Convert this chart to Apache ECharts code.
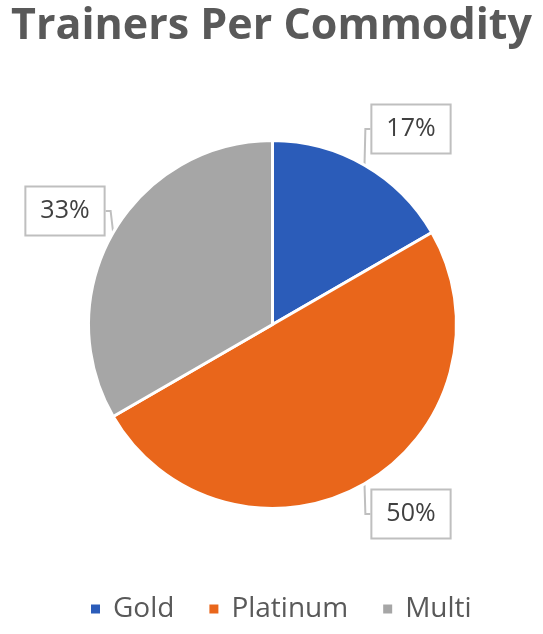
<!DOCTYPE html>
<html><head><meta charset="utf-8">
<script src="https://cdn.jsdelivr.net/npm/echarts@6/dist/echarts.min.js"></script>
<style>html,body{margin:0;padding:0;background:#fff}#c{width:543px;height:634px}</style>
</head><body><div id="c"></div>
<script>
const categories = ['Gold', 'Platinum', 'Multi'];
const values = [1, 3, 2];
const colors = ['#2B5CB9', '#E9661B', '#A6A6A6'];
const labelCenters = [[411, 129], [411, 514], [65, 211]];

const chart = echarts.init(document.getElementById('c'));
chart.setOption({
  animation: false,
  backgroundColor: '#fff',
  title: {
    text: 'Trainers Per Commodity',
    left: 'center', top: 0,
    textStyle: { fontFamily: 'Open Sans', fontWeight: 'bold', fontSize: 43, color: '#595959' }
  },
  legend: {
    bottom: 6, left: 84,
    icon: 'rect', itemWidth: 11, itemHeight: 11, itemGap: 33,
    textStyle: { fontFamily: 'Open Sans', fontSize: 28, color: '#595959', padding: [0, 0, 0, 7] },
    data: categories
  },
  series: [{
    type: 'pie',
    center: [272.5, 324.5],
    radius: 184,
    startAngle: 90,
    clockwise: true,
    data: categories.map((c, i) => ({ name: c, value: values[i], itemStyle: { color: colors[i] } })),
    itemStyle: { borderColor: '#fff', borderWidth: 3 },
    label: {
      show: true,
      formatter: '{d}%',
      fontFamily: 'Open Sans', fontSize: 25, color: '#404040',
      backgroundColor: '#fff', borderColor: '#BFBFBF', borderWidth: 2,
      padding: [11, 14]
    },
    percentPrecision: 0,
    labelLine: { show: true, lineStyle: { color: '#BFBFBF', width: 2 }, length: 5, length2: 5 },
    labelLayout: function (p) {
      const c = labelCenters[p.dataIndex];
      return { x: c[0], y: c[1], align: 'center', verticalAlign: 'middle' };
    }
  }]
});
</script></body></html>
